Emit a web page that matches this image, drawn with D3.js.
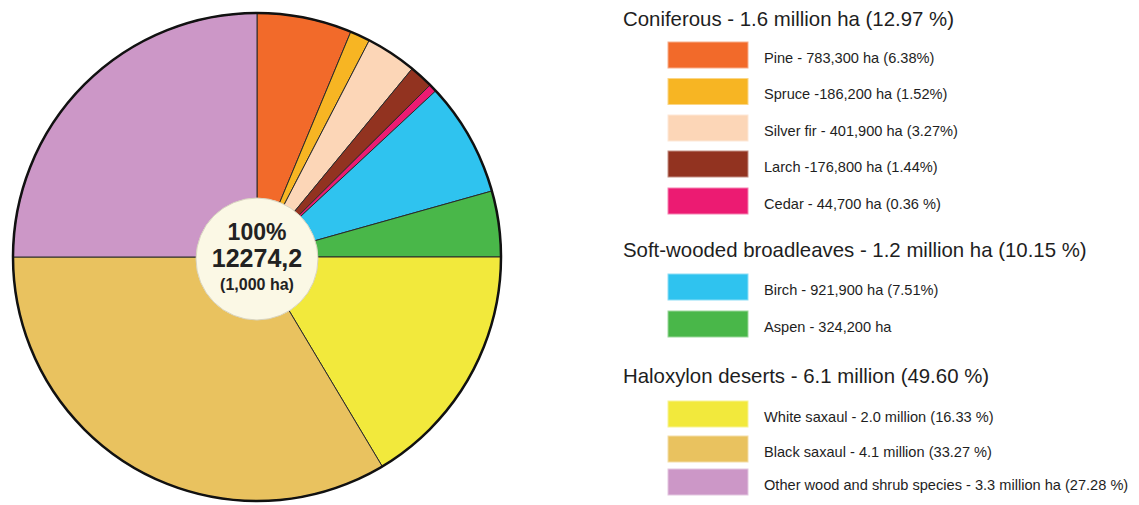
<!DOCTYPE html>
<html>
<head>
<meta charset="utf-8">
<script src="https://cdn.jsdelivr.net/npm/d3@7"></script>
<style>
  html, body { margin: 0; padding: 0; background: #ffffff; }
  svg { display: block; }
  text { font-family: "Liberation Sans", Arial, sans-serif; }
</style>
</head>
<body>
<svg id="chart" width="1139" height="505"></svg>
<script>
// ---- data ----
const species = ["Pine", "Spruce", "Silver fir", "Larch", "Cedar", "Birch", "Aspen",
                 "White saxaul", "Black saxaul", "Other wood and shrub species"];
// share of the circle each slice occupies as drawn in the picture (percent)
const drawnShare = [6.28, 1.33, 3.36, 1.58, 0.53, 7.56, 4.36, 16.42, 33.58, 25.0];
const colors = ["#f26a2a", "#f7b523", "#fcd6b7", "#923320", "#ec1b72", "#2fc3ef",
                "#49b749", "#f2e93c", "#e9c25f", "#cc97c7"];
const groupTitles = ["Coniferous - 1.6 million ha (12.97 %)",
                     "Soft-wooded broadleaves - 1.2 million ha (10.15 %)",
                     "Haloxylon deserts - 6.1 million (49.60 %)"];
const groupOf = [0, 0, 0, 0, 0, 1, 1, 2, 2, 2];
const legendLabels = ["Pine - 783,300 ha (6.38%)",
                      "Spruce -186,200 ha (1.52%)",
                      "Silver fir - 401,900 ha (3.27%)",
                      "Larch -176,800 ha (1.44%)",
                      "Cedar - 44,700 ha (0.36 %)",
                      "Birch - 921,900 ha (7.51%)",
                      "Aspen - 324,200 ha",
                      "White saxaul - 2.0 million (16.33 %)",
                      "Black saxaul - 4.1 million (33.27 %)",
                      "Other wood and shrub species - 3.3 million ha (27.28 %)"];
const centerLines = ["100%", "12274,2", "(1,000 ha)"];

// ---- layout ----
const svg = d3.select("#chart");
const cx = 257, cy = 257, R = 244, rInner = 61;

const pie = d3.pie().sort(null).value(d => d.v);
const arc = d3.arc().innerRadius(0).outerRadius(R);
const pieData = pie(species.map((s, i) => ({ name: s, v: drawnShare[i], i })));

const g = svg.append("g").attr("transform", `translate(${cx},${cy})`);
g.selectAll("path.slice").data(pieData).join("path")
  .attr("class", "slice")
  .attr("d", arc)
  .attr("fill", d => colors[d.data.i])
  .attr("stroke", "#2a2a2a")
  .attr("stroke-width", 1)
  .attr("stroke-linejoin", "round");

g.append("circle").attr("r", R).attr("fill", "none")
  .attr("stroke", "#111").attr("stroke-width", 2.5);

g.append("circle").attr("cx", 0).attr("cy", 2).attr("r", rInner)
  .attr("fill", "#fbf8e5").attr("stroke", "#d8d4c0").attr("stroke-width", 1);

const centerStyle = [
  { y: -17, size: 23 },
  { y: 10, size: 25 },
  { y: 33, size: 16 }
];
g.selectAll("text.center").data(centerLines).join("text")
  .attr("class", "center")
  .attr("x", 0)
  .attr("y", (d, i) => centerStyle[i].y)
  .attr("text-anchor", "middle")
  .attr("font-weight", "bold")
  .attr("font-size", (d, i) => centerStyle[i].size)
  .attr("fill", "#222")
  .text(d => d);

// ---- legend ----
const titleX = 623, swX = 668, swW = 80, swH = 26, labelX = 764;
const titleY = [26, 257, 383];
const swatchTop = [42, 78.5, 115, 151, 188, 274, 311, 401, 436, 469];

svg.selectAll("text.gtitle").data(groupTitles).join("text")
  .attr("class", "gtitle")
  .attr("x", titleX)
  .attr("y", (d, i) => titleY[i])
  .attr("font-size", 20.4)
  .attr("fill", "#1e1e1e")
  .text(d => d);

const items = svg.selectAll("g.item").data(species).join("g").attr("class", "item");
items.append("rect")
  .attr("x", swX)
  .attr("y", (d, i) => swatchTop[i])
  .attr("width", swW)
  .attr("height", swH)
  .attr("fill", (d, i) => colors[i])
  .attr("stroke", (d, i) => d3.interpolateRgb(colors[i], "#ffffff")(0.45))
  .attr("stroke-width", 1);
items.append("text")
  .attr("x", labelX)
  .attr("y", (d, i) => swatchTop[i] + 20.5)
  .attr("font-size", 14.6)
  .attr("fill", "#1e1e1e")
  .text((d, i) => legendLabels[i]);
</script>
</body>
</html>
